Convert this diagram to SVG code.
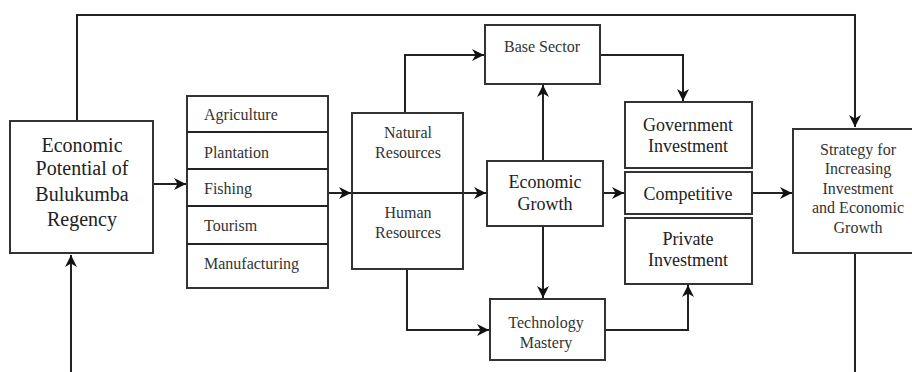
<svg xmlns="http://www.w3.org/2000/svg" width="912" height="372" viewBox="0 0 912 372">
<defs>
<style>
.box{fill:#fff;stroke:#333;stroke-width:2}
.ln{fill:none;stroke:#222;stroke-width:2}
</style>
<marker id="ah" markerUnits="userSpaceOnUse" markerWidth="12" markerHeight="12" refX="10" refY="5" orient="auto" viewBox="0 0 10 10">
<path d="M0,0 L10,5 L0,10 L3,5 z" fill="#111"/>
</marker>
</defs>
<rect width="912" height="372" fill="#fff"/>
<g id="connectors">
<path class="ln" d="M77,121 V15 H855 V127" marker-end="url(#ah)"/>
<path class="ln" d="M855,253 V372"/>
<path class="ln" d="M71,372 V255" marker-end="url(#ah)"/>
<path class="ln" d="M153,184 H186" marker-end="url(#ah)"/>
<path class="ln" d="M328,193 H351" marker-end="url(#ah)"/>
<path class="ln" d="M352,193 H486" marker-end="url(#ah)" stroke-width="2.5"/>
<path class="ln" d="M405,113 V55 H484" marker-end="url(#ah)"/>
<path class="ln" d="M600,55 H683 V101" marker-end="url(#ah)"/>
<path class="ln" d="M543,161 V85" marker-end="url(#ah)"/>
<path class="ln" d="M543,226 V298" marker-end="url(#ah)"/>
<path class="ln" d="M407,269 V330 H489" marker-end="url(#ah)"/>
<path class="ln" d="M605,330 H688 V285" marker-end="url(#ah)"/>
<path class="ln" d="M603,193 H624" marker-end="url(#ah)"/>
<path class="ln" d="M752,193 H792" marker-end="url(#ah)"/>
</g>
<g id="economic-potential">
<rect class="box" x="10" y="121" width="143" height="132"/>
<text font-family="Liberation Serif" font-size="20" fill="#222" text-anchor="middle" x="82" y="152">Economic</text>
<text font-family="Liberation Serif" font-size="20" fill="#222" text-anchor="middle" x="82" y="175">Potential of</text>
<text font-family="Liberation Serif" font-size="20" fill="#222" text-anchor="middle" x="82" y="201">Bulukumba</text>
<text font-family="Liberation Serif" font-size="20" fill="#222" text-anchor="middle" x="82" y="226">Regency</text>
</g>
<g id="sectors">
<rect class="box" x="187" y="96" width="141" height="192"/>
<path class="ln" d="M187,132 H328 M187,169 H328 M187,206 H328 M187,244 H328"/>
<text font-family="Liberation Serif" font-size="16" fill="#333" x="204" y="120">Agriculture</text>
<text font-family="Liberation Serif" font-size="16" fill="#333" x="204" y="158">Plantation</text>
<text font-family="Liberation Serif" font-size="16" fill="#333" x="204" y="194">Fishing</text>
<text font-family="Liberation Serif" font-size="16" fill="#333" x="204" y="231">Tourism</text>
<text font-family="Liberation Serif" font-size="16" fill="#333" x="204" y="269">Manufacturing</text>
</g>
<g id="resources">
<rect class="box" x="352" y="113" width="111" height="156"/>
<text font-family="Liberation Serif" font-size="16" fill="#333" text-anchor="middle" x="408" y="138">Natural</text>
<text font-family="Liberation Serif" font-size="16" fill="#333" text-anchor="middle" x="408" y="158">Resources</text>
<text font-family="Liberation Serif" font-size="16" fill="#333" text-anchor="middle" x="408" y="218">Human</text>
<text font-family="Liberation Serif" font-size="16" fill="#333" text-anchor="middle" x="408" y="238">Resources</text>
</g>
<path class="ln" d="M352,193 H463" stroke-width="2.5"/>
<g id="base-sector">
<rect class="box" x="485" y="25" width="115" height="59"/>
<text font-family="Liberation Serif" font-size="16" fill="#333" text-anchor="middle" x="542" y="52">Base Sector</text>
</g>
<g id="economic-growth">
<rect class="box" x="487" y="161" width="116" height="65"/>
<text font-family="Liberation Serif" font-size="18" fill="#222" text-anchor="middle" x="545" y="188">Economic</text>
<text font-family="Liberation Serif" font-size="18" fill="#222" text-anchor="middle" x="545" y="210">Growth</text>
</g>
<g id="technology-mastery">
<rect class="box" x="490" y="299" width="115" height="61"/>
<text font-family="Liberation Serif" font-size="16" fill="#333" text-anchor="middle" x="546" y="328">Technology</text>
<text font-family="Liberation Serif" font-size="16" fill="#333" text-anchor="middle" x="546" y="348">Mastery</text>
</g>
<g id="government-investment">
<rect class="box" x="625" y="102" width="127" height="66"/>
<text font-family="Liberation Serif" font-size="18" fill="#222" text-anchor="middle" x="688" y="131">Government</text>
<text font-family="Liberation Serif" font-size="18" fill="#222" text-anchor="middle" x="688" y="152">Investment</text>
</g>
<g id="competitive">
<rect class="box" x="625" y="172" width="127" height="42"/>
<text font-family="Liberation Serif" font-size="18" fill="#222" text-anchor="middle" x="688" y="200">Competitive</text>
</g>
<g id="private-investment">
<rect class="box" x="625" y="218" width="127" height="66"/>
<text font-family="Liberation Serif" font-size="18" fill="#222" text-anchor="middle" x="688" y="245">Private</text>
<text font-family="Liberation Serif" font-size="18" fill="#222" text-anchor="middle" x="688" y="266">Investment</text>
</g>
<g id="strategy">
<rect class="box" x="793" y="129" width="132" height="124"/>
<text font-family="Liberation Serif" font-size="16" fill="#333" text-anchor="middle" x="858" y="155">Strategy for</text>
<text font-family="Liberation Serif" font-size="16" fill="#333" text-anchor="middle" x="858" y="174">Increasing</text>
<text font-family="Liberation Serif" font-size="16" fill="#333" text-anchor="middle" x="858" y="194">Investment</text>
<text font-family="Liberation Serif" font-size="16" fill="#333" text-anchor="middle" x="858" y="213">and Economic</text>
<text font-family="Liberation Serif" font-size="16" fill="#333" text-anchor="middle" x="858" y="233">Growth</text>
</g>
</svg>
